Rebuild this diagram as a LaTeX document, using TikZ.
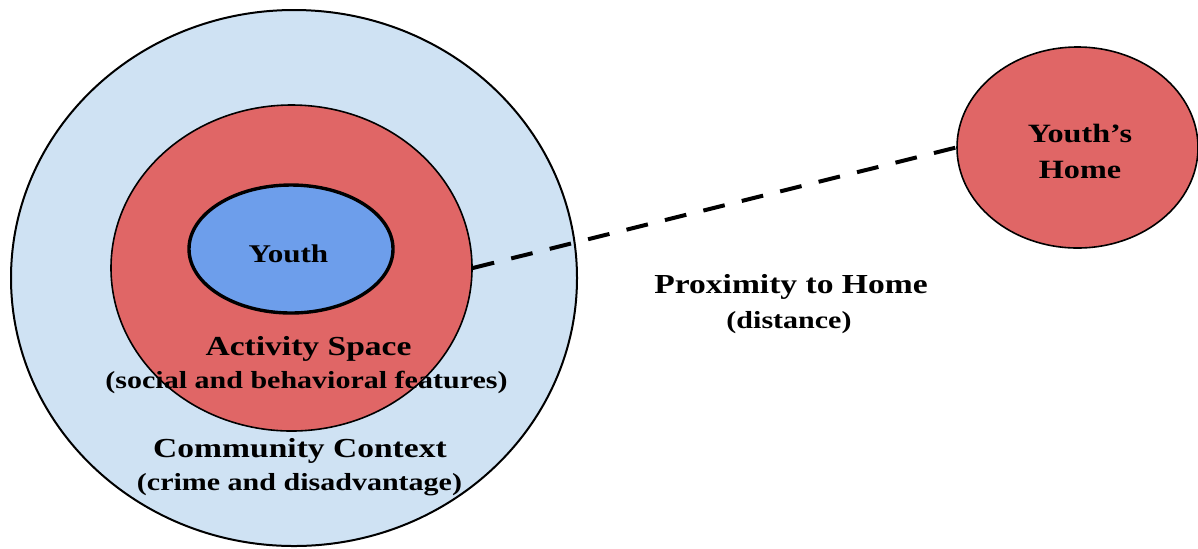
\documentclass[tikz,border=0pt]{standalone}
\usepackage{fontspec}
\usetikzlibrary{shapes.geometric}
\newfontfamily\labelfont{Liberation Serif}[FakeStretch=1.22]

\definecolor{contextblue}{HTML}{CFE2F3}
\definecolor{spacered}{HTML}{E06666}
\definecolor{youthblue}{HTML}{6D9EEB}

\tikzset{
  ring/.style={ellipse, inner sep=0pt, draw=black},
  heading/.style={anchor=base, inner sep=0pt,
    font=\labelfont\bfseries\fontsize{13.75pt}{15pt}\selectfont},
  subheading/.style={anchor=base, inner sep=0pt,
    font=\labelfont\bfseries\fontsize{12.3pt}{14pt}\selectfont},
  link/.style={line width=2pt, dash pattern=on 11pt off 8.8pt}
}

\begin{document}
\begin{tikzpicture}[x=0.5pt, y=-0.5pt]
  \useasboundingbox (0,0) rectangle (1198,548);

  % nested spaces around the youth
  \node[ring, fill=contextblue, line width=1pt,
        minimum width=283pt, minimum height=268pt] (context) at (294,278) {};
  \node[ring, fill=spacered, line width=0.8pt,
        minimum width=180.5pt, minimum height=163pt] (activity) at (291.5,268) {};
  \node[ring, fill=youthblue, line width=1.7pt,
        minimum width=102pt, minimum height=64pt] (youth) at (291,249) {};

  % home, linked by distance
  \node[ring, fill=spacered, line width=0.8pt,
        minimum width=120.5pt, minimum height=100.5pt] (home) at (1077.5,147.5) {};
  \draw[link] (activity.east) -- (home.west);

  % labels
  \node[subheading, font=\labelfont\bfseries\fontsize{12.75pt}{14pt}\selectfont]
        (youthlbl) at (288.5,262) {Youth};
  \node[heading] (actlbl) at (308.5,355) {Activity Space};
  \node[subheading] (actsub) at (306.5,388) {(social and behavioral features)};
  \node[heading] (ctxlbl) at (300,457) {Community Context};
  \node[subheading] (ctxsub) at (299.5,490) {(crime and disadvantage)};
  \node[heading] (proxlbl) at (791,293) {Proximity to Home};
  \node[subheading] (proxsub) at (789,328) {(distance)};
  \node[heading, font=\labelfont\bfseries\fontsize{13.2pt}{15pt}\selectfont]
        (homelbl1) at (1080,142) {Youth’s};
  \node[heading, font=\labelfont\bfseries\fontsize{13.2pt}{15pt}\selectfont]
        (homelbl2) at (1080,178) {Home};
\end{tikzpicture}
\end{document}
